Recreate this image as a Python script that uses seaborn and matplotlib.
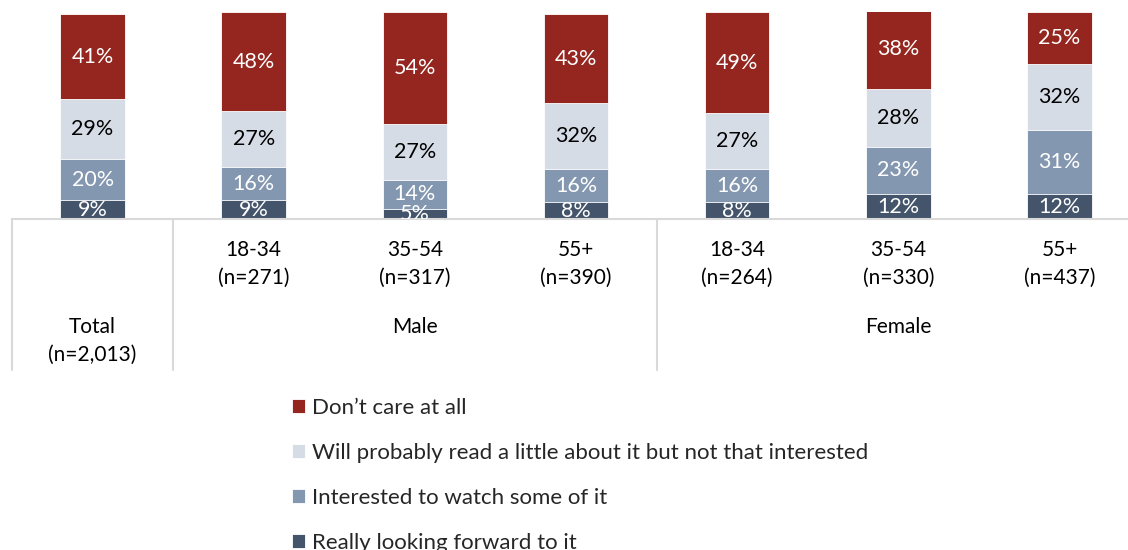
import matplotlib
matplotlib.use("Agg")
import matplotlib.pyplot as plt
import matplotlib.transforms as mtransforms
import seaborn as sns
import pandas as pd
import numpy as np

# ---- data ----
categories = ["Total", "M 18-34", "M 35-54", "M 55+", "F 18-34", "F 35-54", "F 55+"]
age_labels = ["", "18-34\n(n=271)", "35-54\n(n=317)", "55+\n(n=390)",
              "18-34\n(n=264)", "35-54\n(n=330)", "55+\n(n=437)"]
group_labels = ["Total\n(n=2,013)", "Male", "Female"]
really_forward = [9, 9, 5, 8, 8, 12, 12]
interested_watch = [20, 16, 14, 16, 16, 23, 31]
read_little = [29, 27, 27, 32, 27, 28, 32]
dont_care = [41, 48, 54, 43, 49, 38, 25]

series_names = ["Really looking forward to it",
                "Interested to watch some of it",
                "Will probably read a little about it but not that interested",
                "Don\u2019t care at all"]
series_vals = [really_forward, interested_watch, read_little, dont_care]
colors = ["#44546A", "#8497B0", "#D6DCE5", "#94261F"]
label_colors = ["white", "white", "black", "white"]

sns.set_style("white")
plt.rcParams["font.family"] = ["Lato", "DejaVu Sans"]

W, H = 1128, 550
fig = plt.figure(figsize=(W / 100, H / 100), dpi=100)
ax = fig.add_axes([12 / W, (H - 219) / H, 1128 / W, 207 / H])

vals = np.array(series_vals, dtype=float)
cum = np.cumsum(vals, axis=0)

# draw stacked bars from the top layer down so lower layers overwrite
for i in range(3, -1, -1):
    df = pd.DataFrame({"cat": categories, "v": cum[i]})
    sns.barplot(data=df, x="cat", y="v", order=categories, color=colors[i],
                width=0.4, saturation=1, ax=ax, label=series_names[i],
                edgecolor="white", linewidth=0.6)

# value labels
for i in range(4):
    for j in range(len(categories)):
        bottom = cum[i][j] - vals[i][j]
        ax.text(j, bottom + vals[i][j] / 2, f"{int(vals[i][j])}%",
                ha="center", va="center", fontsize=15.5,
                color=label_colors[i], clip_on=True)

ax.set_xlim(-0.5, 6.5)
ax.set_ylim(0, 100)
ax.set_xticks([])
ax.set_yticks([])
ax.set_xlabel("")
ax.set_ylabel("")
for s in ax.spines.values():
    s.set_visible(False)
if ax.get_legend():
    ax.get_legend().remove()

# table lines
line_col = "#D9D9D9"
trans = mtransforms.blended_transform_factory(ax.transData, ax.transAxes)
ax.plot([-0.5, 6.5], [0, 0], transform=trans, color=line_col, lw=1.5, clip_on=False)
ybot = -(370 - 219) / 207
for xv in [-0.5, 0.5, 3.5]:
    ax.plot([xv, xv], [0, ybot], transform=trans, color=line_col, lw=1.5, clip_on=False)

# category labels
for j, lab in enumerate(age_labels):
    if not lab:
        continue
    ax.text(j, -(264 - 219) / 207, lab, transform=trans, ha="center", va="center",
            fontsize=15, color="black", linespacing=1.5, clip_on=False)
ax.text(0, -(341 - 219) / 207, group_labels[0], transform=trans, ha="center",
        va="center", fontsize=15, color="black", linespacing=1.5, clip_on=False)
ax.text(2, -(327 - 219) / 207, group_labels[1], transform=trans, ha="center",
        va="center", fontsize=15, color="black", clip_on=False)
ax.text(5, -(327 - 219) / 207, group_labels[2], transform=trans, ha="center",
        va="center", fontsize=15, color="black", clip_on=False)

# legend
handles, labels = ax.get_legend_handles_labels()
hmap = dict(zip(labels, handles))
order = series_names[::-1]
fig.legend([hmap[n] for n in order], order, loc="upper left",
           bbox_to_anchor=(292 / W, 1 - 398 / H), frameon=False, fontsize=16,
           handlelength=0.6, handleheight=0.6, handletextpad=0.3,
           labelspacing=1.12, borderpad=0, borderaxespad=0)

fig.savefig("out.png", dpi=100)
